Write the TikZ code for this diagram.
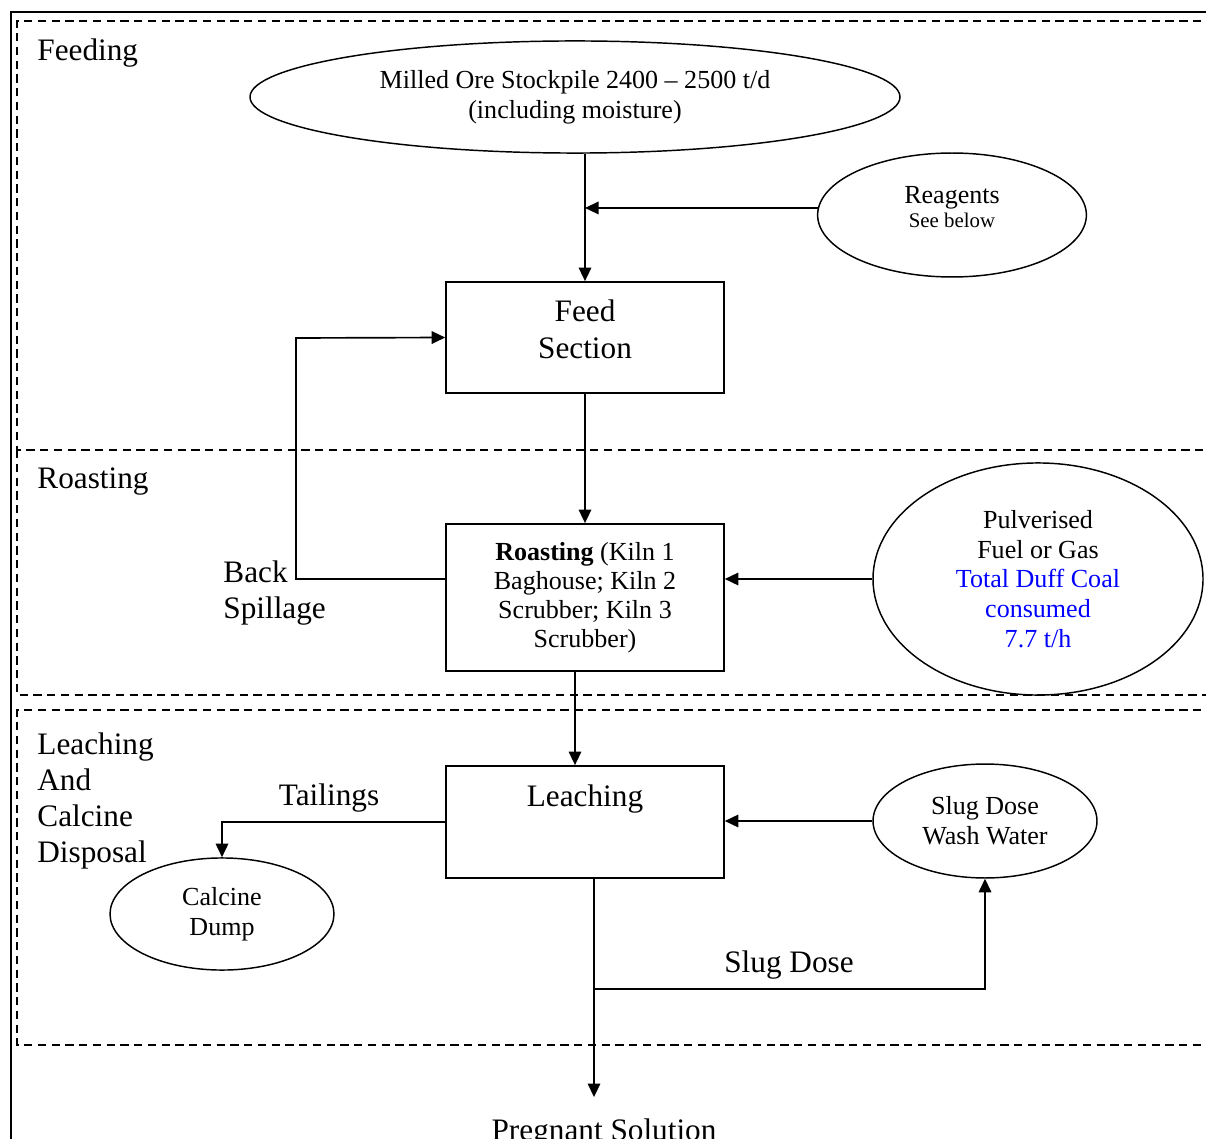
\documentclass[tikz,border=0pt]{standalone}
\usepackage{fontspec}
\setmainfont{Liberation Serif}
\usetikzlibrary{shapes.geometric, arrows.meta}

\tikzset{
    zone/.style={dash pattern=on 4pt off 2.6pt, line width=0.7pt},
    blk/.style={draw, line width=0.8pt, minimum width=133.4pt, align=center,
        font=\fontsize{12.5}{14}\selectfont},
    oval/.style={draw, ellipse, line width=0.7pt, align=center, inner sep=0pt,
        font=\fontsize{12.5}{14.3}\selectfont},
    flow/.style={line width=0.8pt, -{Triangle[length=6.5pt,width=6pt]}},
    lbl/.style={font=\fontsize{15}{17.3}\selectfont, align=left, inner sep=0pt}
}

\begin{document}
\begin{tikzpicture}[x=0.48pt, y=-0.48pt]

    \useasboundingbox (0,0) rectangle (1206,1139);

    % ================= frame and zones =================
    \draw[line width=1.4pt] (11,1150) -- (11,12) -- (1215,12);
    \draw[zone] (1215,21) -- (17,21) -- (17,450) -- (1215,450);
    \draw[zone] (17,450) -- (17,695) -- (1215,695);
    \draw[zone] (1215,710) -- (17,710) -- (17,1045) -- (1215,1045);

    % zone titles
    \node[lbl, anchor=base west] (TFeed) at (37,61) {Feeding};
    \node[lbl, anchor=base west] (TRoast) at (37,488) {Roasting};
    \node[lbl, anchor=north west] (TLeach) at (37,732) {Leaching\\And\\Calcine\\Disposal};

    % ================= Feeding =================
    \node[oval, minimum width=312pt, minimum height=53.8pt] (Ore) at (575,97)
        {Milled Ore Stockpile 2400 -- 2500 t/d\\(including moisture)};
    \node[oval, minimum width=129pt, minimum height=59.5pt, text depth=7.7pt] (Reag) at (952,215)
        {Reagents\\[-2.4pt]{\fontsize{10}{11}\selectfont See below}};
    \node[blk, minimum height=53.3pt, text depth=8pt, font=\fontsize{15}{17.3}\selectfont] (Feed) at (585,337.5)
        {Feed\\Section};

    \draw[flow] (Ore.south -| Feed.north) -- (Feed.north);
    \draw[flow] (Reag.177) -- (Reag.177 -| Feed.north);

    % ================= Roasting =================
    \node[blk, minimum height=70.6pt] (Roast) at (585,597.5)
        {\textbf{Roasting} (Kiln 1\\Baghouse; Kiln 2\\Scrubber; Kiln 3\\Scrubber)};
    \node[oval, minimum width=158.4pt, minimum height=111.4pt] (Fuel) at (1038,579)
        {Pulverised\\Fuel or Gas\\\textcolor{blue}{Total Duff Coal}\\\textcolor{blue}{consumed}\\\textcolor{blue}{7.7 t/h}};

    \draw[flow] (Feed.south) -- (Roast.north);
    \draw[flow] (Fuel.west) -- (Fuel.west -| Roast.east);

    % back spillage loop
    \coordinate (Turn) at (296,338);
    \draw[flow] (Roast.west |- Fuel.west) -| (Turn) -- (Feed.west);
    \node[lbl, anchor=north west] (TBack) at (223,560) {Back\\Spillage};

    % ================= Leaching =================
    \node[blk, minimum height=53.8pt, text depth=25pt, font=\fontsize{15}{17.3}\selectfont] (Leach) at (585,822)
        {Leaching};
    \node[oval, minimum width=107.5pt, minimum height=54.7pt] (Wash) at (985,821)
        {Slug Dose\\Wash Water};
    \node[oval, minimum width=107.5pt, minimum height=53.8pt] (Dump) at (222,914)
        {Calcine\\Dump};
    \node[lbl, anchor=base, inner sep=10pt] (Sol) at (604,1140) {Pregnant Solution};

    \draw[flow] ([xshift=-4.8pt]Roast.south) -- ([xshift=-4.8pt]Leach.north);
    \draw[flow] (Wash.west) -- (Wash.west -| Leach.east);
    \draw[flow] (Leach.west) -| (Dump.north);
    \node[lbl] (TTail) at (329,798) {Tailings};

    % slug dose return and product
    \coordinate (Split) at (594,989);
    \draw[flow] (Split |- Leach.south) -- (Split |- Sol.north);
    \draw[flow] (Split) -| (Wash.south);
    \node[lbl] (TSlug) at (789,965) {Slug Dose};

\end{tikzpicture}
\end{document}
